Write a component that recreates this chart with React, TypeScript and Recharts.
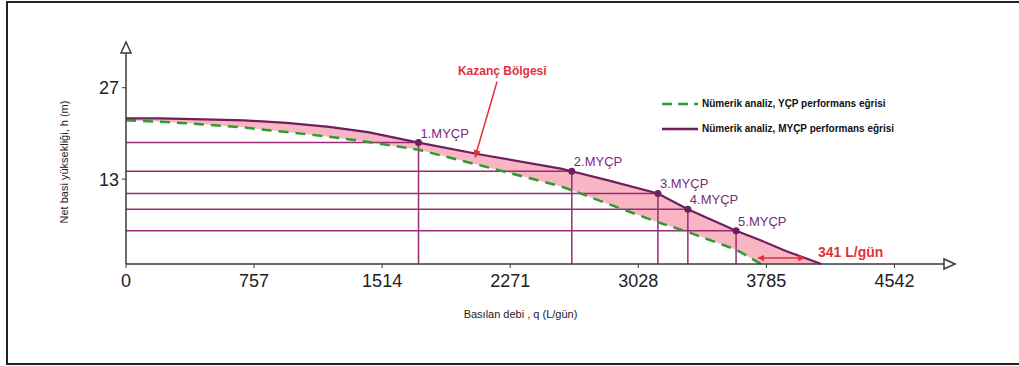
import React from 'react'
import {
  ComposedChart, Area, Line, XAxis, YAxis, ReferenceLine, ReferenceDot,
} from 'recharts'

// debi (L/gün) grid shared by both curves
const qValues = [0, 200, 400, 700, 950, 1200, 1430, 1729, 2110, 2570, 2635, 2850, 3144, 3321, 3606, 3754, 3900, 4110]
// MYÇP performans eğrisi, h (m)
const myçpH = [22.3, 22.3, 22.2, 22.0, 21.6, 21.0, 20.2, 18.6, 16.7, 14.6, 14.2, 12.8, 10.8, 8.4, 5.1, 3.6, 2.0, 0]
// YÇP performans eğrisi, h (m)
const yçpH: (number | null)[] = [22.0, 21.8, 21.5, 20.9, 20.2, 19.5, 18.7, 17.5, 15.0, 11.9, 11.3, 9.2, 6.4, 4.9, 2.2, 0, null, null]

const pumpNames = ['1.MYÇP', '2.MYÇP', '3.MYÇP', '4.MYÇP', '5.MYÇP']
const pumpQ = [1729, 2635, 3144, 3321, 3606]
const pumpH = [18.6, 14.2, 10.8, 8.4, 5.1]

const xTicks = [0, 757, 1514, 2271, 3028, 3785, 4542]
const yTicks = [13, 27]

const legendNames = ['Nümerik analiz, YÇP performans eğrisi', 'Nümerik analiz, MYÇP performans eğrisi']

const PURPLE = '#6e1f5c'
const GRID = '#9a2a74'
const GREEN = '#2f9a2f'
const PINK = '#f8b5c4'
const RED = '#e5303a'
const AXIS = '#3a3a3a'
const FONT = '"Liberation Sans", Arial, sans-serif'

const data = qValues.map((q, i) => ({
  q,
  myçp: myçpH[i],
  yçp: yçpH[i],
  band: [yçpH[i] ?? 0, myçpH[i]],
}))

function arrowHead(cx: number, cy: number, angle: number, color: string, size = 7) {
  // tip at (cx, cy), pointing along angle (deg)
  const a = (angle * Math.PI) / 180
  const bx = cx - size * Math.cos(a)
  const by = cy - size * Math.sin(a)
  const px = -Math.sin(a) * size * 0.45
  const py = Math.cos(a) * size * 0.45
  return <polygon points={`${cx},${cy} ${bx + px},${by + py} ${bx - px},${by - py}`} fill={color} />
}

function LegendBox() {
  return (
    <div style={{ fontFamily: FONT, fontSize: 10, fontWeight: 700, color: '#111', lineHeight: '25px', whiteSpace: 'nowrap' }}>
      <div style={{ display: 'flex', alignItems: 'center' }}>
        <svg width={40} height={6}><line x1={2} y1={3} x2={38} y2={3} stroke={GREEN} strokeWidth={2.5} strokeDasharray="10 6" /></svg>
        <span style={{ marginLeft: 2 }}>{legendNames[0]}</span>
      </div>
      <div style={{ display: 'flex', alignItems: 'center' }}>
        <svg width={40} height={6}><line x1={2} y1={3} x2={38} y2={3} stroke={PURPLE} strokeWidth={2.5} /></svg>
        <span style={{ marginLeft: 2 }}>{legendNames[1]}</span>
      </div>
    </div>
  )
}

export default function App() {
  return (
    <div style={{ position: 'absolute', left: 0, top: 0, width: 1019, height: 366, background: '#fff', overflow: 'hidden' }}>
      <div style={{
        position: 'absolute', left: 6, top: 1, width: 1013, height: 360,
        borderLeft: '2px solid #222', borderTop: '2px solid #222', borderBottom: '2px solid #222',
      }} />
      <div style={{ position: 'absolute', left: 0, top: 0 }}>
        <ComposedChart width={1019} height={366} data={data} margin={{ top: 42, right: 64, bottom: 72, left: 86 }}>
          <XAxis
            dataKey="q" type="number" domain={[0, 4900]} ticks={xTicks} height={30}
            axisLine={{ stroke: AXIS, strokeWidth: 1.5 }} tickLine={{ stroke: AXIS }} tickSize={4} tickMargin={6}
            tick={{ fill: '#222', fontSize: 18, fontFamily: FONT }}
            label={({ viewBox }: any) => (
              <text x={viewBox.x + viewBox.width / 2 - 20} y={viewBox.y + 54} textAnchor="middle"
                fontSize={11} fontFamily={FONT} fill="#222">Basılan debi , q (L/gün)</text>
            )}
          />
          <YAxis
            type="number" domain={[0, 34]} ticks={yTicks} width={40}
            axisLine={{ stroke: AXIS, strokeWidth: 1.5 }} tickLine={{ stroke: AXIS }} tickSize={4} tickMargin={3}
            tick={{ fill: '#222', fontSize: 18, fontFamily: FONT }}
            label={({ viewBox }: any) => (
              <text x={viewBox.x - 22} y={viewBox.y + viewBox.height / 2 + 9} textAnchor="middle"
                transform={`rotate(-90, ${viewBox.x - 22}, ${viewBox.y + viewBox.height / 2 + 9})`}
                dominantBaseline="central" fontSize={11} fontFamily={FONT} fill="#222">Net basi yüksekliği, h (m)</text>
            )}
          />

          <Area dataKey="band" type="linear" fill={PINK} fillOpacity={1} stroke="none" isAnimationActive={false} legendType="none" />

          {pumpQ.map((q, i) => (
            <ReferenceLine key={'h' + i} segment={[{ x: 0, y: pumpH[i] }, { x: q, y: pumpH[i] }]} stroke={GRID} strokeWidth={1.5} />
          ))}
          {pumpQ.map((q, i) => (
            <ReferenceLine key={'v' + i} segment={[{ x: q, y: 0 }, { x: q, y: pumpH[i] }]} stroke={GRID} strokeWidth={1.5} />
          ))}

          <Line dataKey="yçp" type="linear" stroke={GREEN} strokeWidth={2.5} strokeDasharray="10 7" dot={false} isAnimationActive={false} />
          <Line dataKey="myçp" type="linear" stroke={PURPLE} strokeWidth={2.2} dot={false} isAnimationActive={false} />

          {pumpQ.map((q, i) => (
            <ReferenceDot key={'p' + i} x={q} y={pumpH[i]} r={3.5}
              shape={(p: any) => (
                <g>
                  <circle cx={p.cx} cy={p.cy} r={3.5} fill={PURPLE} />
                  <text x={p.cx + 2} y={p.cy - 5} fontSize={13} fontFamily={FONT} fill="#7a2a7a">{pumpNames[i]}</text>
                </g>
              )}
            />
          ))}

          {/* Kazanç Bölgesi annotation */}
          <ReferenceLine segment={[{ x: 2193, y: 27.9 }, { x: 2068, y: 16.8 }]} stroke={RED} strokeWidth={1.5} />
          <ReferenceDot x={2063} y={16.2} r={1} shape={(p: any) => arrowHead(p.cx, p.cy, 106, RED, 8)} />
          <ReferenceDot x={1962} y={28.9} r={1}
            shape={(p: any) => <text x={p.cx} y={p.cy} fontSize={12} fontWeight={700} fontFamily={FONT} fill={RED}>Kazanç Bölgesi</text>} />

          {/* 341 L/gün */}
          <ReferenceLine segment={[{ x: 3745, y: 0.9 }, { x: 4000, y: 0.9 }]} stroke={RED} strokeWidth={1.5} />
          <ReferenceDot x={3730} y={0.9} r={1} shape={(p: any) => arrowHead(p.cx, p.cy, 180, RED, 7)} />
          <ReferenceDot x={4015} y={0.9} r={1} shape={(p: any) => arrowHead(p.cx, p.cy, 0, RED, 7)} />
          <ReferenceDot x={4090} y={1.1} r={1}
            shape={(p: any) => <text x={p.cx} y={p.cy} fontSize={14} fontWeight={700} fontFamily={FONT} fill={RED}>341 L/gün</text>} />

          {/* axis arrow heads */}
          <ReferenceDot x={4900} y={0} r={1} ifOverflow="visible"
            shape={(p: any) => <polygon points={`${p.cx},${p.cy} ${p.cx - 11},${p.cy - 5} ${p.cx - 11},${p.cy + 5}`} fill="#fff" stroke={AXIS} strokeWidth={1.5} />} />
          <ReferenceDot x={0} y={34} r={1} ifOverflow="visible"
            shape={(p: any) => <polygon points={`${p.cx},${p.cy} ${p.cx - 5},${p.cy + 11} ${p.cx + 5},${p.cy + 11}`} fill="#fff" stroke={AXIS} strokeWidth={1.5} />} />
        </ComposedChart>
      </div>
      <div style={{ position: 'absolute', left: 660, top: 91, width: 300 }}>
        <LegendBox />
      </div>
    </div>
  )
}
